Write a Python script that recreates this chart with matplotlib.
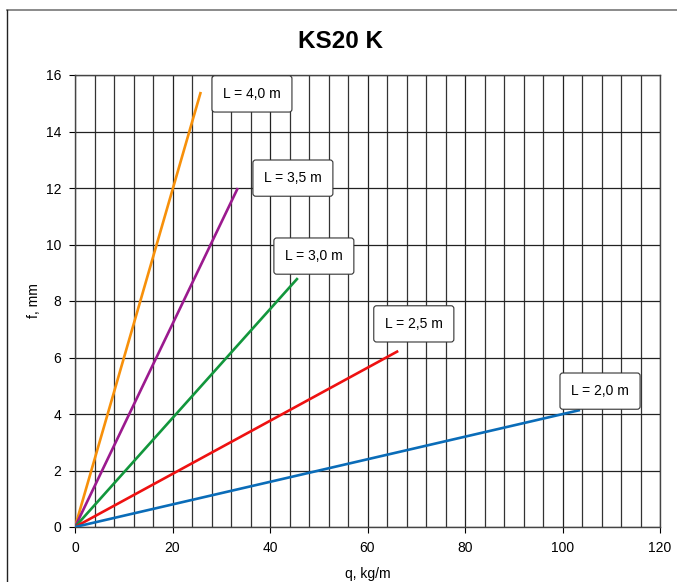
import numpy as np
import matplotlib
matplotlib.use("Agg")
import matplotlib.pyplot as plt
from matplotlib.lines import Line2D

plt.rcParams['font.family'] = ['Liberation Sans', 'DejaVu Sans']

# Daten: Endpunkte der Kurven (Start bei 0,0)
labels = ["L = 4,0 m", "L = 3,5 m", "L = 3,0 m", "L = 2,5 m", "L = 2,0 m"]
q_end = [25.8, 33.4, 45.7, 66.3, 103.6]
f_end = [15.4, 12.0, 8.81, 6.23, 4.14]
colors = ["#f7900a", "#9b1a8e", "#12963c", "#ee1111", "#0a6cb8"]
label_x = [36.3, 44.7, 49.0, 69.5, 107.7]
label_y = [15.33, 12.35, 9.59, 7.19, 4.81]

fig = plt.figure(figsize=(6.77, 5.82), dpi=100)
ax = fig.add_axes([75/677, 1-527/582, 585/677, 452/582])

for i in range(len(labels)):
    ax.plot([0, q_end[i]], [0, f_end[i]], color=colors[i], lw=1.9,
            solid_capstyle='butt', zorder=3)
    ax.text(label_x[i], label_y[i], labels[i], ha='center', va='center',
            fontsize=10, zorder=5,
            bbox=dict(boxstyle='round,pad=0.8,rounding_size=0.2',
                      fc='white', ec='#333333', lw=0.8))

ax.set_xlim(0, 120)
ax.set_ylim(0, 16)
ax.set_xticks(np.arange(0, 121, 20))
ax.set_yticks(np.arange(0, 17, 2))
ax.set_xticks(np.arange(0, 121, 4), minor=True)
ax.grid(which='major', color='#222222', lw=0.9)
ax.grid(which='minor', axis='x', color='#333333', lw=0.9)
ax.tick_params(which='minor', length=0)
ax.tick_params(which='major', length=4, width=0.8, labelsize=10,
               direction='out', pad=6)
for s in ax.spines.values():
    s.set_color('#444444')
    s.set_linewidth(1)

ax.set_xlabel("q, kg/m", fontsize=10, labelpad=9)
ax.set_ylabel("f, mm", fontsize=10, labelpad=3)

fig.text(340/677, 1-42/582, "KS20 K", ha='center', va='center',
         fontsize=17.5, fontweight='bold')

# Rahmen
fig.add_artist(Line2D([7/677, 1], [1-10/582, 1-10/582], color='#777777', lw=1.2))
fig.add_artist(Line2D([7/677, 7/677], [0, 1-10/582], color='#222222', lw=1))

fig.savefig('out.png', dpi=100)
